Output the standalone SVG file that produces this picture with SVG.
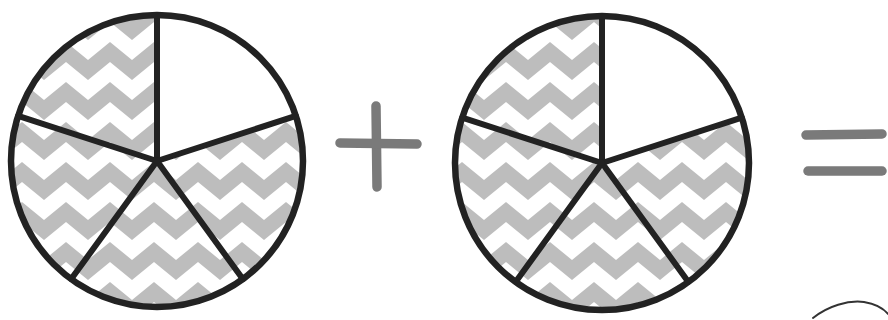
<svg xmlns="http://www.w3.org/2000/svg" width="888" height="320" viewBox="0 0 888 320">
  <style>
    .shaded { fill: url(#zig); }
    .empty { fill: #ffffff; }
    .rim { fill: none; stroke: #222; stroke-width: 6.5; }
    .spoke { stroke: #222; stroke-width: 6; stroke-linecap: round; }
    .sign { stroke: #7a7a7a; stroke-width: 9.5; stroke-linecap: round; fill: none; }
    .curve { fill: none; stroke: #333; stroke-width: 2; stroke-linecap: round; }
  </style>
  <defs>
    <pattern id="zig" patternUnits="userSpaceOnUse" x="0" y="0" width="44" height="40">
      <rect width="44" height="40" fill="#ffffff"/>
      <polygon points="0,20 22,2 44,20 44,40 22,22 0,40" fill="#bdbdbd"/>
      <polygon points="0,-20 22,-38 44,-20 44,0 22,-18 0,0" fill="#bdbdbd"/>
      <polygon points="0,60 22,42 44,60 44,80 22,62 0,80" fill="#bdbdbd"/>
    </pattern>
  </defs>
  <rect width="888" height="320" fill="#ffffff"/>

  <g id="pie-1">
    <path class="empty" d="M157,161 L157,15 A146,146 0 0 1 295.9,115.9 Z"/>
    <path class="shaded" d="M157,161 L295.9,115.9 A146,146 0 0 1 242.8,279.1 Z"/>
    <path class="shaded" d="M157,161 L242.8,279.1 A146,146 0 0 1 71.2,279.1 Z"/>
    <path class="shaded" d="M157,161 L71.2,279.1 A146,146 0 0 1 18.1,115.9 Z"/>
    <path class="shaded" d="M157,161 L18.1,115.9 A146,146 0 0 1 157,15 Z"/>
    <line class="spoke" x1="157" y1="161" x2="157" y2="15"/>
    <line class="spoke" x1="157" y1="161" x2="295.9" y2="115.9"/>
    <line class="spoke" x1="157" y1="161" x2="242.8" y2="279.1"/>
    <line class="spoke" x1="157" y1="161" x2="71.2" y2="279.1"/>
    <line class="spoke" x1="157" y1="161" x2="18.1" y2="115.9"/>
    <circle class="rim" cx="157" cy="161" r="146"/>
  </g>

  <g id="plus">
    <line class="sign" x1="376" y1="106" x2="377" y2="187"/>
    <line class="sign" x1="340" y1="143" x2="417" y2="144"/>
  </g>

  <g id="pie-2">
    <path class="empty" d="M602,163 L602,16 A147,147 0 0 1 741.8,117.6 Z"/>
    <path class="shaded" d="M602,163 L741.8,117.6 A147,147 0 0 1 688.4,281.9 Z"/>
    <path class="shaded" d="M602,163 L688.4,281.9 A147,147 0 0 1 515.6,281.9 Z"/>
    <path class="shaded" d="M602,163 L515.6,281.9 A147,147 0 0 1 462.2,117.6 Z"/>
    <path class="shaded" d="M602,163 L462.2,117.6 A147,147 0 0 1 602,16 Z"/>
    <line class="spoke" x1="602" y1="163" x2="602" y2="16"/>
    <line class="spoke" x1="602" y1="163" x2="741.8" y2="117.6"/>
    <line class="spoke" x1="602" y1="163" x2="688.4" y2="281.9"/>
    <line class="spoke" x1="602" y1="163" x2="515.6" y2="281.9"/>
    <line class="spoke" x1="602" y1="163" x2="462.2" y2="117.6"/>
    <circle class="rim" cx="602" cy="163" r="147"/>
  </g>

  <g id="equals">
    <line class="sign" x1="806" y1="135" x2="882" y2="134"/>
    <line class="sign" x1="808" y1="171" x2="882" y2="171"/>
  </g>

  <g id="partial-curve">
    <path class="curve" d="M813,318 C828,306 848,300 864,302 C876,304 884,309 888,314"/>
  </g>
</svg>
